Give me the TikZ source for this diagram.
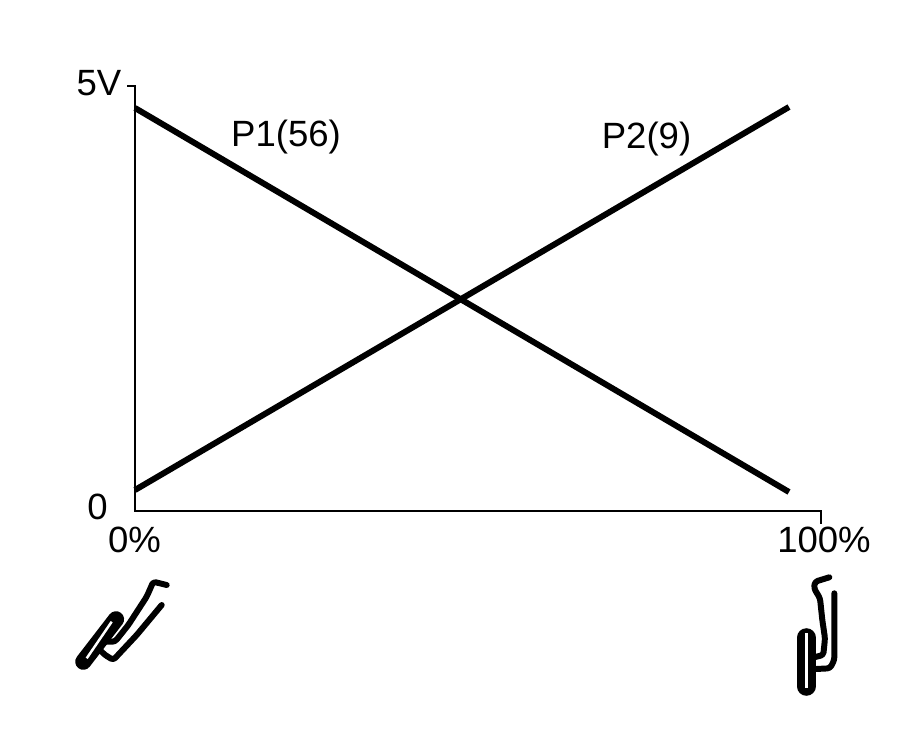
\documentclass[tikz,border=0pt]{standalone}
\usepackage{fontspec}
\usepackage{tikz}
\setmainfont{Liberation Sans}
\usetikzlibrary{positioning, calc}
\tikzset{
    axisline/.style={black, line width=0.55pt},
    curveline/.style={black, line width=1.7pt},
    pedalline/.style={black, line width=1.7pt, line join=round, line cap=round, rounded corners=0.8pt},
    pedalpad/.style={black, line width=4.6pt, line cap=round},
    pedalslit/.style={white, line width=0.7pt},
    axislabel/.style={inner sep=0pt, font=\fontsize{10.4}{12}\selectfont},
}

\begin{document}
\begin{tikzpicture}
    \useasboundingbox (0,0) rectangle (9.18,7.5);
    % axes
    \coordinate (tickY) at (1.27,6.64);
    \coordinate (topY) at (1.35,6.64);
    \coordinate (origin) at (1.35,2.39);
    \coordinate (endX) at (8.21,2.39);
    \coordinate (tickX) at (8.21,2.26);
    \draw[axisline] (tickY) -- (topY) -- (origin) -- (endX) -- (tickX);
    % output curves
    \coordinate (p1start) at (1.35,6.42);
    \coordinate (p1end) at (7.89,2.58);
    \coordinate (p2start) at (1.35,2.60);
    \coordinate (p2end) at (7.89,6.43);
    \draw[curveline] (p1start) -- (p1end);
    \draw[curveline] (p2start) -- (p2end);
    % labels
    \node[axislabel] (fivev) at (0.99,6.67) {5V};
    \node[axislabel] (zero) at (0.975,2.43) {0};
    \node[axislabel] (zeropc) at (1.345,2.10) {0\%};
    \node[axislabel] (fullpc) at (8.24,2.10) {100\%};
    \node[axislabel] (p1) at (2.86,6.13) {P1(56)};
    \node[axislabel] (p2) at (6.465,6.11) {P2(9)};
    % released pedal
    \draw[pedalline] (1.667,1.65) -- (1.533,1.683) -- (1.467,1.533) -- (1.283,1.25) -- (1.15,1.083) -- (1.05,1.083);
    \draw[pedalline] (1.617,1.45) -- (1.367,1.15) -- (1.133,0.90) -- (1.05,0.95) -- (0.983,1.017);
    \draw[pedalpad] (1.16,1.307) -- (0.833,0.883);
    \draw[pedalslit] (1.117,1.283) -- (0.867,0.917);
    % pressed pedal
    \draw[pedalline] (8.293,1.727) -- (8.15,1.683) -- (8.14,1.617) -- (8.20,1.517) -- (8.223,1.30) -- (8.25,1.117) -- (8.233,0.95) -- (8.10,0.917);
    \draw[pedalline] (8.343,1.567) -- (8.343,0.90) -- (8.30,0.817) -- (8.10,0.807);
    \draw[pedalpad, line width=5.4pt] (8.063,1.123) -- (8.063,0.637);
    \draw[pedalslit] (8.067,1.167) -- (8.067,0.617);
\end{tikzpicture}
\end{document}
